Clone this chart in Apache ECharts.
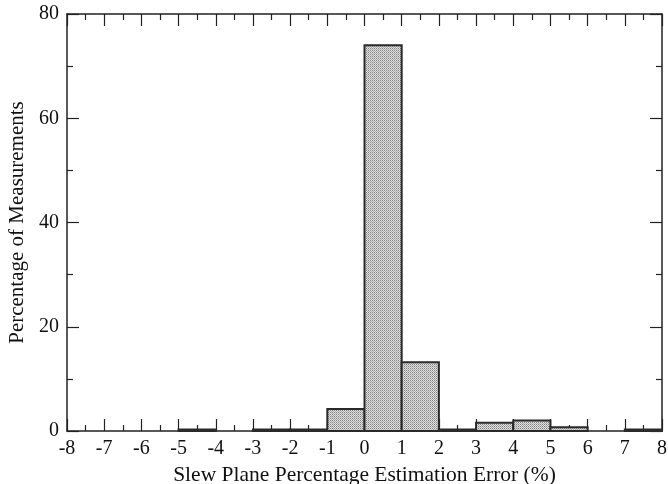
<!DOCTYPE html>
<html lang="en">
<head>
    <meta charset="UTF-8">
    <title>Slew Plane Percentage Estimation Error</title>
    <script src="https://cdn.jsdelivr.net/npm/echarts@6/dist/echarts.min.js"></script>
</head>
<body style="margin:0;">
    <div id="main" style="width: 668px;height:484px;"></div>
    <script type="text/javascript">
        // bin edges (left) and percentages
        var binStart = [-8, -7, -6, -5, -4, -3, -2, -1, 0, 1, 2, 3, 4, 5, 6, 7];
        var binWidth = 1;
        var percent = [0, 0, 0, 0.3, 0, 0.3, 0.3, 4.2, 74, 13.2, 0.3, 1.6, 2.0, 0.7, 0, 0.3];

        var myChart = echarts.init(document.getElementById('main'));

        // dotted grey fill like the print
        var pat = document.createElement('canvas');
        pat.width = 2; pat.height = 2;
        var pc = pat.getContext('2d');
        pc.fillStyle = '#dedede';
        pc.fillRect(0, 0, 2, 2);
        pc.fillStyle = '#808080';
        pc.fillRect(0, 0, 1, 1);
        pc.fillStyle = '#b0b0b0';
        pc.fillRect(1, 1, 1, 1);

        var bins = binStart.map(function (s, i) { return [s, s + binWidth, percent[i]]; })
            .filter(function (d) { return d[2] > 0; });

        var font = 'Liberation Serif';
        var tickStyle = { color: '#222', width: 1.2 };

        function xAx(pos, showLabel) {
            return {
                type: 'value', position: pos, min: -8, max: 8, interval: 1,
                axisLine: { show: true, onZero: false, lineStyle: { color: '#222', width: 1.5 } },
                axisTick: { show: true, inside: true, length: 12, lineStyle: tickStyle },
                minorTick: { show: true, splitNumber: 2, length: 6, lineStyle: tickStyle },
                axisLabel: { show: showLabel, fontFamily: font, fontSize: 20, color: '#111', margin: 8 },
                splitLine: { show: false },
                name: showLabel ? 'Slew Plane Percentage Estimation Error (%)' : '',
                nameLocation: 'middle', nameGap: 33,
                nameTextStyle: { fontFamily: font, fontSize: 21.5, color: '#111' }
            };
        }
        function yAx(pos, showLabel) {
            return {
                type: 'value', position: pos, min: 0, max: 80, interval: 20,
                axisLine: { show: true, onZero: false, lineStyle: { color: '#222', width: 1.5 } },
                axisTick: { show: true, inside: true, length: 12, lineStyle: tickStyle },
                minorTick: { show: true, splitNumber: 2, length: 6, lineStyle: tickStyle },
                axisLabel: { show: showLabel, fontFamily: font, fontSize: 20, color: '#111', margin: 8 },
                splitLine: { show: false },
                name: showLabel ? 'Percentage of Measurements' : '',
                nameLocation: 'middle', nameGap: 39,
                nameTextStyle: { fontFamily: font, fontSize: 21, color: '#111' }
            };
        }

        var option = {
            animation: false,
            backgroundColor: '#fff',
            grid: { left: 67, right: 6, top: 14, bottom: 53, containLabel: false, outerBoundsMode: 'none' },
            xAxis: [xAx('bottom', true), xAx('top', false)],
            yAxis: [yAx('left', true), yAx('right', false)],
            series: [{
                type: 'custom',
                data: bins,
                encode: { x: [0, 1], y: 2 },
                renderItem: function (params, api) {
                    var p0 = api.coord([api.value(0), 0]);
                    var p1 = api.coord([api.value(1), api.value(2)]);
                    return {
                        type: 'rect',
                        shape: { x: p0[0], y: p1[1], width: p1[0] - p0[0], height: p0[1] - p1[1] },
                        style: { fill: { image: pat, repeat: 'repeat' }, stroke: '#2a2a2a', lineWidth: 2 }
                    };
                }
            }]
        };

        myChart.setOption(option);
    </script>
</body>
</html>
